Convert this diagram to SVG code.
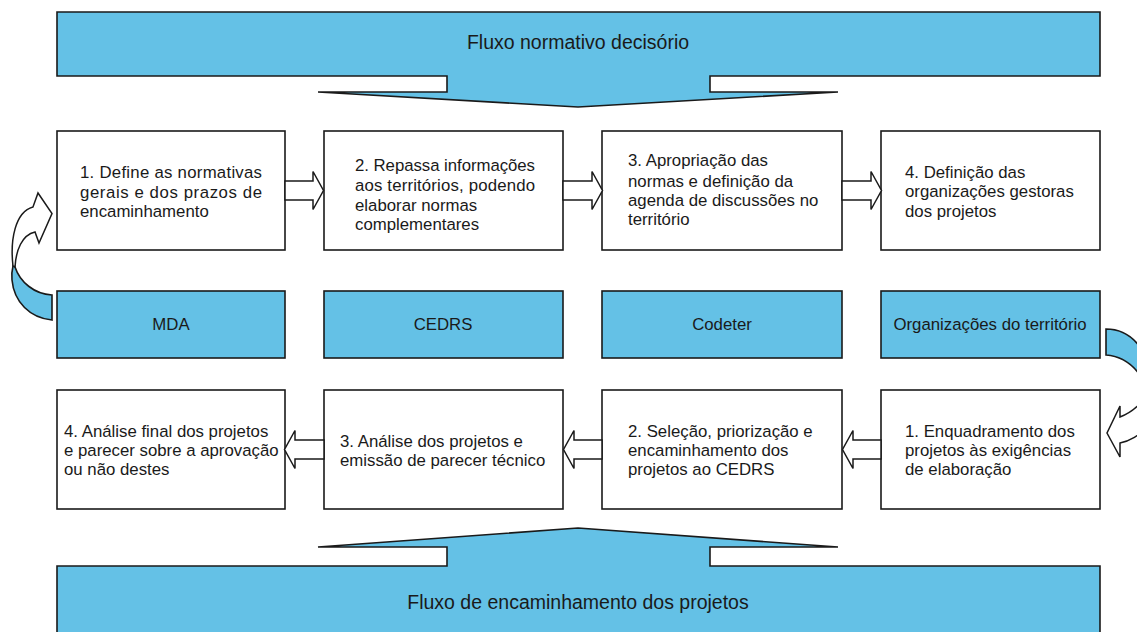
<svg xmlns="http://www.w3.org/2000/svg" width="1137" height="632" viewBox="0 0 1137 632">
<style>
.box{fill:#ffffff;stroke:#1a1a1a;stroke-width:1.6}
.blue{fill:#64c1e6;stroke:#1a1a1a;stroke-width:1.6}
.arr{fill:#ffffff;stroke:#1a1a1a;stroke-width:1.5;stroke-linejoin:miter}
.t{font-family:"Liberation Sans",Arial,sans-serif;font-size:16.8px;fill:#1a1a1a}
.c{text-anchor:middle}
.h{font-size:19.5px}
</style>
<rect width="1137" height="632" fill="#ffffff"/>

<g id="banner-top">
<path class="blue" d="M57,12 H1100 V76 H710 V92 H838 L578,107 L318,92 H447 V76 H57 Z"/>
<text class="t c h" x="578" y="49">Fluxo normativo decisório</text>
</g>

<g id="banner-bottom">
<path class="blue" d="M57,566 H447 V547 H318 L578,528 L838,547 H710 V566 H1100 V645 H57 Z"/>
<text class="t c h" x="578" y="609">Fluxo de encaminhamento dos projetos</text>
</g>

<g id="top1"><rect class="box" x="57" y="131" width="228" height="119"/>
<text class="t"><tspan x="80" y="178" textLength="182" lengthAdjust="spacing">1. Define as normativas</tspan></text>
<text class="t"><tspan x="80" y="197.5" textLength="182" lengthAdjust="spacing">gerais e dos prazos de</tspan></text>
<text class="t"><tspan x="80" y="217">encaminhamento</tspan></text></g>
<g id="top2"><rect class="box" x="324" y="131" width="239" height="119"/>
<text class="t"><tspan x="355" y="171" textLength="180" lengthAdjust="spacing">2. Repassa  informações</tspan></text>
<text class="t"><tspan x="355" y="191" textLength="180" lengthAdjust="spacing">aos territórios, podendo</tspan></text>
<text class="t"><tspan x="355" y="211">elaborar normas</tspan><tspan x="355" y="230">complementares</tspan></text></g>
<g id="top3"><rect class="box" x="602" y="131" width="240" height="119"/>
<text class="t"><tspan x="628" y="166">3. Apropriação das</tspan><tspan x="628" y="186.5">normas e definição da</tspan><tspan x="628" y="206">agenda de discussões no</tspan><tspan x="628" y="225">território</tspan></text></g>
<g id="top4"><rect class="box" x="881" y="131" width="219" height="119"/>
<text class="t"><tspan x="905" y="178">4. Definição das</tspan><tspan x="905" y="197">organizações gestoras</tspan><tspan x="905" y="217">dos projetos</tspan></text></g>

<g id="mda"><rect class="blue" x="57" y="291" width="228" height="67"/><text class="t c" x="171" y="330">MDA</text></g>
<g id="cedrs"><rect class="blue" x="324" y="291" width="239" height="67"/><text class="t c" x="443" y="330">CEDRS</text></g>
<g id="codeter"><rect class="blue" x="602" y="291" width="240" height="67"/><text class="t c" x="722" y="330">Codeter</text></g>
<g id="org"><rect class="blue" x="881" y="291" width="219" height="67"/><text class="t c" x="990" y="330">Organizações do território</text></g>

<g id="bot4"><rect class="box" x="57" y="390" width="228" height="119"/>
<text class="t"><tspan x="64" y="437">4. Análise final dos projetos</tspan><tspan x="64" y="456">e parecer sobre a aprovação</tspan><tspan x="64" y="475">ou não destes</tspan></text></g>
<g id="bot3"><rect class="box" x="324" y="390" width="239" height="119"/>
<text class="t"><tspan x="340" y="447">3. Análise dos projetos e</tspan><tspan x="340" y="466">emissão de parecer técnico</tspan></text></g>
<g id="bot2"><rect class="box" x="602" y="390" width="240" height="119"/>
<text class="t"><tspan x="628" y="437">2. Seleção, priorização e</tspan><tspan x="628" y="456">encaminhamento dos</tspan><tspan x="628" y="475">projetos ao CEDRS</tspan></text></g>
<g id="bot1"><rect class="box" x="881" y="390" width="219" height="119"/>
<text class="t"><tspan x="905" y="437">1. Enquadramento dos</tspan><tspan x="905" y="456">projetos às exigências</tspan><tspan x="905" y="475">de elaboração</tspan></text></g>

<g id="connectors">
<path class="arr" d="M285,181 H313 V171.5 L323.5,190.5 L313,209.5 V200 H285 Z"/>
<path class="arr" d="M563,181 H592 V171.5 L602.5,190.5 L592,209.5 V200 H563 Z"/>
<path class="arr" d="M842,181 H871 V171.5 L881.5,190.5 L871,209.5 V200 H842 Z"/>
<path class="arr" d="M324,440 H295 V430.5 L284.5,449.5 L295,468.5 V459 H324 Z"/>
<path class="arr" d="M602,440 H574 V430.5 L563.5,449.5 L574,468.5 V459 H602 Z"/>
<path class="arr" d="M881,440 H853 V430.5 L842.5,449.5 L853,468.5 V459 H881 Z"/>
<path class="blue" d="M13,266 C13,250 14,262 15,267 C20,282 34,294 52,295 V320 C30,318 14,302 12,280 C11.5,275 12,270 13,266 Z"/>
<path class="arr" d="M13,266 C10,240 15,212 33,207 L38,193 L52,213.5 L39,243 L35,232 C22,235 16,250 15,267 Z"/>
<path class="blue" d="M1106,329 C1120,329 1132,336 1140,347 L1140,375 C1132,364 1120,356 1106,355 Z"/>
<path class="arr" d="M1145,398 C1137,408 1128,414 1120,417 L1120,406 L1107,433 L1120,457 L1120,443 C1130,441 1140,435 1145,428"/>
</g>
</svg>
